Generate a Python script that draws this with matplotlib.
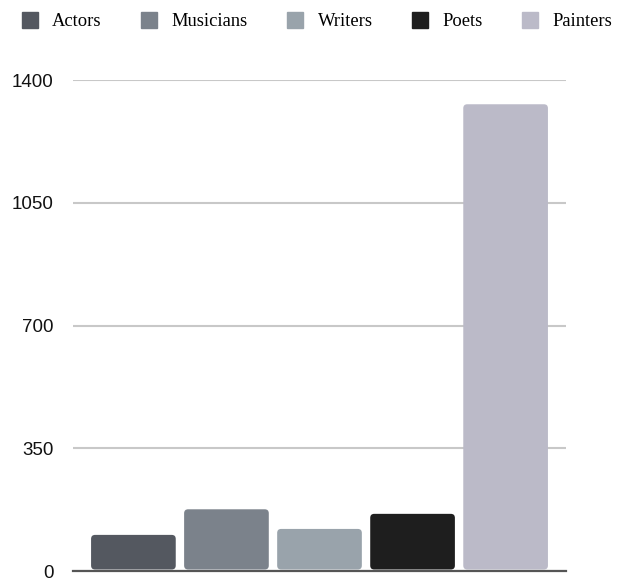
import matplotlib
matplotlib.use("Agg")
import matplotlib.pyplot as plt
from matplotlib.patches import FancyBboxPatch
from matplotlib.lines import Line2D

# Data
categories = ["Actors", "Musicians", "Writers", "Poets", "Painters"]
values = [103, 176, 120, 163, 1331]
colors = ["#545860", "#7b828b", "#99a3ab", "#1e1e1e", "#bbbac8"]
y_ticks = [0, 350, 700, 1050, 1400]

W, H = 618, 581
fig = plt.figure(figsize=(W / 100, H / 100), dpi=100)
ax = fig.add_axes([0.118, 0.0172, 0.798, 0.845])

x = list(range(len(categories)))
bars = ax.bar(x, values, width=0.91, color=colors)

ax.set_xlim(-0.65, 4.65)
ax.set_ylim(0, 1400)

# Replace plain bars with rounded-corner versions
fig.canvas.draw()
bbox = ax.get_window_extent()
x_per_px = (4.65 + 0.65) / bbox.width
y_per_px = 1400 / bbox.height
aspect = y_per_px / x_per_px
radius = 4 * x_per_px
for b, c in zip(bars, colors):
    bx, by = b.get_x(), b.get_y()
    bw, bh = b.get_width(), b.get_height()
    b.set_visible(False)
    p = FancyBboxPatch((bx, by + 1.5 * y_per_px), bw, bh - 1.5 * y_per_px,
                       boxstyle=f"round,pad=0,rounding_size={radius}",
                       mutation_aspect=aspect, facecolor=c, edgecolor="none",
                       zorder=3)
    ax.add_patch(p)

ax.set_yticks(y_ticks)
ax.set_yticklabels([str(t) for t in y_ticks], fontfamily="Liberation Sans",
                   fontsize=13.5, color="#111111")
ax.tick_params(axis="y", length=0, pad=14)
ax.set_xticks([])
for s in ["top", "right", "left"]:
    ax.spines[s].set_visible(False)
ax.spines["bottom"].set_color("#555555")
ax.spines["bottom"].set_linewidth(1.6)
ax.spines["bottom"].set_zorder(4)
ax.yaxis.grid(True, color="#c8c8c8", linewidth=1.5)
ax.set_axisbelow(True)

fs_pt = 13.3
fs_px = fs_pt * 100 / 72
handles = [Line2D([], [], marker="s", linestyle="none", markersize=12.2,
                  markerfacecolor=c, markeredgecolor=c) for c in colors]
fig.legend(handles, categories, loc="center left",
           bbox_to_anchor=(21 / W, 1 - 22 / H),
           ncol=5, frameon=False, prop={"family": "Liberation Serif", "size": fs_pt},
           handlelength=17 / fs_px, handletextpad=14 / fs_px,
           columnspacing=39 / fs_px, borderpad=0, borderaxespad=0)

fig.savefig("out.png", dpi=100)
